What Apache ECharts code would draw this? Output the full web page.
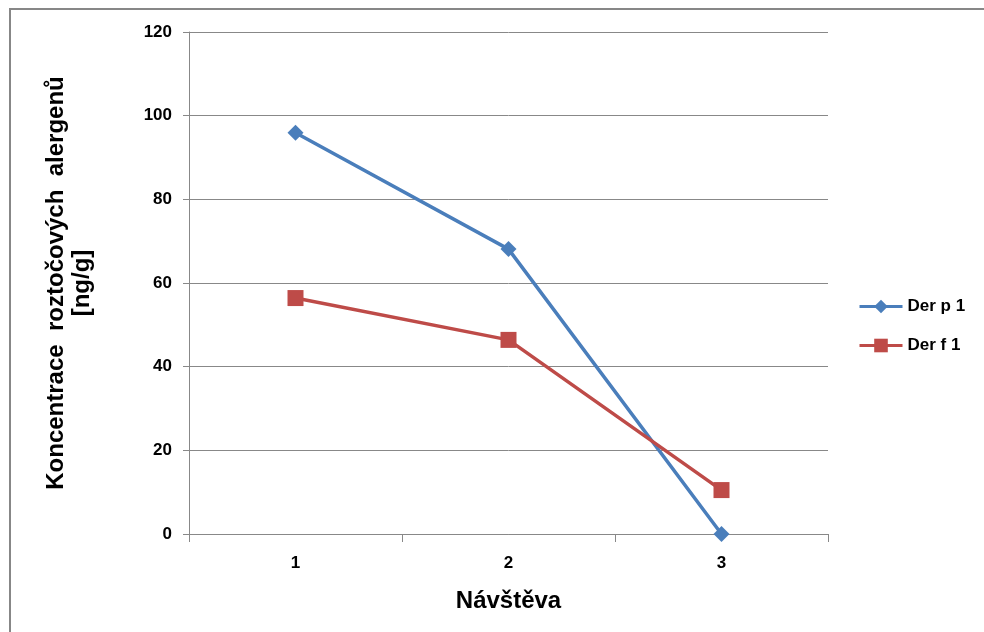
<!DOCTYPE html>
<html>
<head>
<meta charset="utf-8">
<script src="https://cdn.jsdelivr.net/npm/echarts@6/dist/echarts.min.js"></script>
<style>
  html, body { margin: 0; padding: 0; background: #fff; }
  #chart { width: 984px; height: 632px; }
</style>
</head>
<body>
<div id="chart"></div>
<script>
// Visits and allergen concentrations (ng/g)
const visits = ['1', '2', '3'];
const derP1 = [95.9, 68.1, 0];
const derF1 = [56.4, 46.4, 10.5];
const seriesNames = ['Der p 1', 'Der f 1'];

const FONT = 'Liberation Sans';
const chart = echarts.init(document.getElementById('chart'), null, { renderer: 'canvas' });

chart.setOption({
  animation: false,
  backgroundColor: '#fff',
  textStyle: { fontFamily: FONT },
  graphic: [{
    type: 'rect',
    shape: { x: 10, y: 9, width: 1000, height: 700 },
    style: { fill: 'none', stroke: '#878787', lineWidth: 2 },
    silent: true
  }],
  grid: { left: 189, right: 156, top: 32, bottom: 98 },
  legend: {
    orient: 'vertical',
    left: 853,
    top: 293,
    itemWidth: 43,
    itemHeight: 17,
    itemGap: 22,
    lineStyle: { width: 3 },
    textStyle: { fontFamily: FONT, fontSize: 17, fontWeight: 'bold', color: '#000' },
    data: seriesNames
  },
  xAxis: {
    type: 'category',
    data: visits,
    boundaryGap: true,
    axisLine: { lineStyle: { color: '#888', width: 1 } },
    axisTick: { show: true, length: 8, lineStyle: { color: '#888' } },
    axisLabel: { margin: 21, fontFamily: FONT, fontSize: 17, fontWeight: 'bold', color: '#000' },
    name: 'Návštěva',
    nameLocation: 'middle',
    nameGap: 55,
    nameTextStyle: { fontFamily: FONT, fontSize: 24, fontWeight: 'bold', color: '#000' }
  },
  yAxis: {
    type: 'value',
    min: 0,
    max: 120,
    interval: 20,
    axisLine: { show: true, lineStyle: { color: '#888', width: 1 } },
    axisTick: { show: true, length: 6, lineStyle: { color: '#888' } },
    splitLine: { lineStyle: { color: '#888', width: 1 } },
    axisLabel: { margin: 17, fontFamily: FONT, fontSize: 17, fontWeight: 'bold', color: '#000' },
    name: 'Koncentrace  roztočových  alergenů\n[ng/g]',
    nameLocation: 'middle',
    nameRotate: 90,
    nameGap: 94,
    nameTextStyle: { fontFamily: FONT, fontSize: 24, fontWeight: 'bold', color: '#000', lineHeight: 26, align: 'center' }
  },
  series: [
    {
      name: seriesNames[0],
      type: 'line',
      data: derP1,
      symbol: 'diamond',
      symbolSize: 16,
      itemStyle: { color: '#4A7EBB' },
      lineStyle: { color: '#4A7EBB', width: 3.5 }
    },
    {
      name: seriesNames[1],
      type: 'line',
      data: derF1,
      symbol: 'rect',
      symbolSize: 16,
      itemStyle: { color: '#BE4B48' },
      lineStyle: { color: '#BE4B48', width: 3.5 }
    }
  ]
});
</script>
</body>
</html>
